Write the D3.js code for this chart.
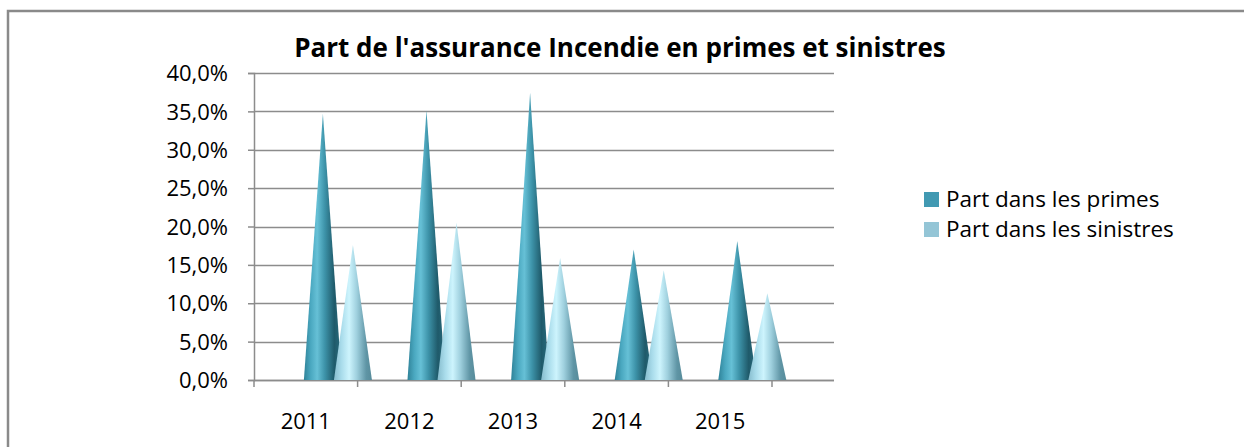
<!DOCTYPE html>
<html><head><meta charset="utf-8">
<script src="https://cdn.jsdelivr.net/npm/d3@7"></script>
<style>body{margin:0;background:#fff}svg{display:block}</style>
</head><body>
<script>
const years = ["2011","2012","2013","2014","2015"];
const primes = [0.347, 0.351, 0.374, 0.170, 0.181];
const sinistres = [0.176, 0.205, 0.159, 0.143, 0.113];
const seriesNames = ["Part dans les primes","Part dans les sinistres"];
const yTicks = [0,0.05,0.10,0.15,0.20,0.25,0.30,0.35,0.40];
const title = "Part de l'assurance Incendie en primes et sinistres";

const W=1244,H=447;
const svg=d3.select("body").append("svg").attr("width",W).attr("height",H);
const font="'Open Sans', Lato, sans-serif";

// border
svg.append("path").attr("d",`M8,${H} L8,11 L${W},11`).attr("fill","none").attr("stroke","#8a8a8a").attr("stroke-width",2.5);

const defs=svg.append("defs");
function grad(id,stops){
  const g=defs.append("linearGradient").attr("id",id).attr("x1","0").attr("x2","1").attr("y1","0").attr("y2","0");
  stops.forEach(s=>g.append("stop").attr("offset",s[0]).attr("stop-color",s[1]));
}
grad("gP",[[0,"#2f8298"],[0.18,"#4aa8c0"],[0.35,"#66c0d6"],[0.55,"#3d93a9"],[0.8,"#1f5a6a"],[1,"#2a6c7e"]]);
grad("gS",[[0,"#86bccd"],[0.2,"#a9dceb"],[0.4,"#cdf4fd"],[0.6,"#9fd0de"],[0.85,"#5f95a5"],[1,"#578b9a"]]);

const y=d3.scaleLinear().domain([0,0.40]).range([380,73]);
const x=d3.scaleBand().domain(years).range([254,772]).paddingInner(0).paddingOuter(0);
const bw=x.bandwidth();

// gridlines
svg.append("g").selectAll("line").data(yTicks).join("line")
  .attr("x1",254).attr("x2",834).attr("y1",d=>Math.round(y(d))+0.5).attr("y2",d=>Math.round(y(d))+0.5)
  .attr("stroke","#8c8c8c").attr("stroke-width",1.5);

// y axis
const yAxis=d3.axisLeft(y).tickValues(yTicks).tickSize(6).tickPadding(20)
  .tickFormat(d=>d3.format(".1%")(d).replace(".",","));
const ya=svg.append("g").attr("transform","translate(254,0)").call(yAxis);
ya.select(".domain").attr("stroke","#8c8c8c").attr("stroke-width",1.5);
ya.selectAll(".tick line").attr("stroke","#8c8c8c").attr("stroke-width",1.5);
ya.selectAll("text").attr("font-family",font).attr("font-size",22).attr("fill","#000").attr("dy","0.35em");

// x axis
const xa=svg.append("g").attr("transform","translate(0,380)");
xa.append("line").attr("x1",254).attr("x2",834).attr("y1",0.5).attr("y2",0.5).attr("stroke","#8c8c8c").attr("stroke-width",1.5);
xa.selectAll(".xt").data(years.concat(["end"])).join("line")
  .attr("x1",(d,i)=>i<years.length?x(d):x(years[years.length-1])+bw)
  .attr("x2",(d,i)=>i<years.length?x(d):x(years[years.length-1])+bw)
  .attr("y1",0).attr("y2",7).attr("stroke","#8c8c8c").attr("stroke-width",1.5);
xa.selectAll("text").data(years).join("text")
  .attr("x",d=>x(d)+bw/2).attr("y",49).attr("text-anchor","middle")
  .attr("font-family",font).attr("font-size",22).text(d=>d);

// cones
const hw=19;
function cone(cx,v){
  const b=y(0),t=y(v);
  return `M${cx-hw},${b} L${cx},${t} L${cx+hw},${b} Z`;
}
const cg=svg.append("g");
years.forEach((yr,i)=>{
  const cp=x(yr)+bw*0.665, cs=x(yr)+bw*0.955;
  cg.append("path").attr("d",cone(cp,primes[i])).attr("fill","url(#gP)");
  cg.append("path").attr("d",cone(cs,sinistres[i])).attr("fill","url(#gS)");
});

// title
svg.append("text").attr("x",620).attr("y",57).attr("text-anchor","middle")
  .attr("font-family",font).attr("font-weight","bold").attr("font-size",26).text(title);

// legend
const legColors=["#4199b2","#94c5d6"];
const lg=svg.append("g");
seriesNames.forEach((n,i)=>{
  lg.append("rect").attr("x",924).attr("y",192+i*30).attr("width",15).attr("height",15).attr("fill",legColors[i]);
  lg.append("text").attr("x",946).attr("y",207+i*30).attr("font-family",font).attr("font-size",22.5).text(n);
});
</script>
</body></html>
